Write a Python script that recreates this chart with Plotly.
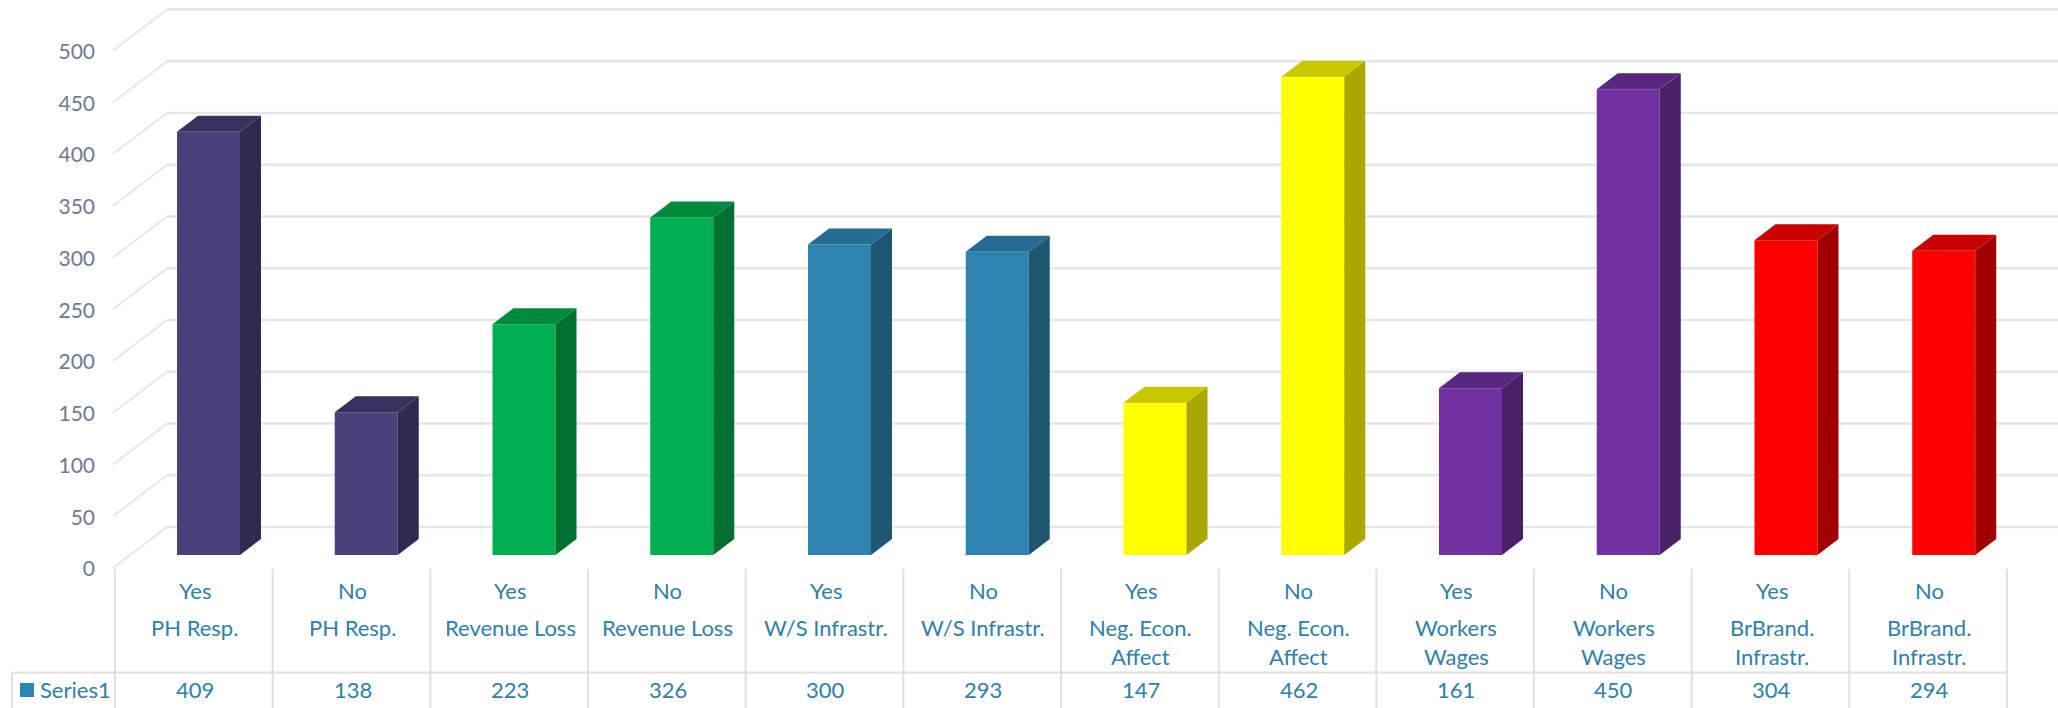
import plotly.graph_objects as go

# ---- data ----
categories_top = ["Yes", "No"] * 6
categories_mid = ["PH Resp.", "PH Resp.", "Revenue Loss", "Revenue Loss", "W/S Infrastr.", "W/S Infrastr.",
                  "Neg. Econ.", "Neg. Econ.", "Workers", "Workers", "BrBrand.", "BrBrand."]
categories_low = ["", "", "", "", "", "", "Affect", "Affect", "Wages", "Wages", "Infrastr.", "Infrastr."]
values = [409, 138, 223, 326, 300, 293, 147, 462, 161, 450, 304, 294]
y_ticks = [0, 50, 100, 150, 200, 250, 300, 350, 400, 450, 500]
series_name = "Series1"

# ---- style ----
front = ["#47427A", "#47427A", "#00B050", "#00B050", "#2E84B0", "#2E84B0",
         "#FFFF00", "#FFFF00", "#7030A0", "#7030A0", "#FF0000", "#FF0000"]
side = ["#2D2B50", "#2D2B50", "#007030", "#007030", "#1E5674", "#1E5674",
        "#A8A800", "#A8A800", "#4A2068", "#4A2068", "#A00000", "#A00000"]
top = ["#35325C", "#35325C", "#008A3C", "#008A3C", "#256C92", "#256C92",
       "#C8C800", "#C8C800", "#582880", "#582880", "#C80000", "#C80000"]
GRID = "#E4E5EA"
WALL = "#E6E6E8"
TABLE = "#DFE0E6"
TEXT = "#2F80A8"
AXIS_TEXT = "#6F7990"
FONT = "Lato"

W, H = 2058, 708
STEP = 157.75          # pixels per category
K = 1.035              # pixels per value unit
X0, Y0 = 208.5, 555.0  # pixel of category 0 / value 0
BAR_W = 63 / STEP
DX, DY = 21 / STEP, 16 / K

xr = [-X0 / STEP, (W - X0) / STEP]
yr = [(Y0 - H) / K, Y0 / K]
yr2 = [(569 - H) / K, 569 / K]


def px_x(p):
    return (p - X0) / STEP


def paper_y(p):
    return 1 - p / H


idx = list(range(len(values)))
fig = go.Figure()
fig.add_trace(go.Bar(x=idx, y=values, width=BAR_W, name=series_name,
                     marker=dict(color=front, line=dict(width=0)), hoverinfo="y"))
for i, v in zip(idx, values):
    r = i + BAR_W / 2
    l = i - BAR_W / 2
    fig.add_trace(go.Scatter(x=[r, r + DX, r + DX, r, r], y=[0, DY, v + DY, v, 0],
                             mode="lines", fill="toself", fillcolor=side[i],
                             line=dict(width=0, color=side[i]), hoverinfo="skip"))
    fig.add_trace(go.Scatter(x=[l, l + DX, r + DX, r, l], y=[v, v + DY, v + DY, v, v],
                             mode="lines", fill="toself", fillcolor=top[i],
                             line=dict(width=0, color=top[i]), hoverinfo="skip"))
# carrier for the value-axis labels, which sit on the front edge of the floor
fig.add_trace(go.Scatter(x=[0] * len(y_ticks), y=y_ticks, yaxis="y2", mode="markers",
                         marker=dict(opacity=0), hoverinfo="skip"))

shapes = []
front_off = (Y0 - 568) / K
back_off = (Y0 - 527) / K
for t in y_ticks:
    shapes.append(dict(type="line", xref="x", yref="y", layer="below",
                       x0=px_x(113), y0=t + front_off, x1=px_x(167), y1=t + back_off,
                       line=dict(color=WALL, width=2)))
    shapes.append(dict(type="line", xref="x", yref="y", layer="below",
                       x0=px_x(167), y0=t + back_off, x1=xr[1], y1=t + back_off,
                       line=dict(color=GRID, width=2.5)))

TABLE_L, TABLE_STEP = 115.0, 157.67
for i in range(len(values) + 1):
    xp = TABLE_L + TABLE_STEP * i
    shapes.append(dict(type="line", xref="paper", yref="paper", layer="below",
                       x0=xp / W, x1=xp / W, y0=paper_y(569), y1=0,
                       line=dict(color=TABLE, width=2)))
shapes.append(dict(type="line", xref="paper", yref="paper", layer="below",
                   x0=12 / W, x1=(TABLE_L + TABLE_STEP * len(values)) / W,
                   y0=paper_y(672.5), y1=paper_y(672.5), line=dict(color=TABLE, width=2)))
shapes.append(dict(type="line", xref="paper", yref="paper", layer="below",
                   x0=12 / W, x1=12 / W, y0=paper_y(672.5), y1=0,
                   line=dict(color=TABLE, width=2)))
shapes.append(dict(type="rect", xref="paper", yref="paper",
                   x0=20 / W, x1=34 / W, y0=paper_y(697), y1=paper_y(683),
                   fillcolor="#2E84B0", line=dict(width=0)))

annotations = []


def label(xp, yp, text, anchor="center"):
    annotations.append(dict(x=xp / W, y=paper_y(yp), xref="paper", yref="paper", text=text,
                            showarrow=False, xanchor=anchor, yanchor="middle",
                            font=dict(family=FONT, size=22, color=TEXT)))


for i in idx:
    c = TABLE_L + TABLE_STEP * (i + 0.5) + 1
    label(c, 590.5, categories_top[i])
    label(c, 627.5, categories_mid[i])
    if categories_low[i]:
        label(c, 656.5, categories_low[i])
    label(c, 689.5, str(values[i]))
label(38, 689.5, series_name, "left")

fig.update_layout(
    width=None, height=None,
    autosize=True,
    margin=dict(l=0, r=0, t=0, b=0, pad=0),
    paper_bgcolor="white", plot_bgcolor="rgba(0,0,0,0)",
    showlegend=False,
    xaxis=dict(range=xr, domain=[0, 1], visible=False, fixedrange=True),
    yaxis=dict(range=yr, domain=[0, 1], visible=False, fixedrange=True),
    yaxis2=dict(range=yr2, domain=[0, 1], overlaying="y", anchor="free", side="left",
                position=95 / W, tickmode="array", tickvals=y_ticks,
                ticktext=[str(t) for t in y_ticks], showgrid=False, zeroline=False,
                showline=False, ticks="", fixedrange=True,
                tickfont=dict(family=FONT, size=21, color=AXIS_TEXT)),
    shapes=shapes, annotations=annotations,
)
fig.write_html("out.html", config={"displayModeBar": False}, default_width="100%", default_height="100vh",
               include_plotlyjs=True)
html = open("out.html", encoding="utf-8").read()
html = html.replace("<head>", "<head><style>html,body{margin:0;padding:0;height:100%;overflow:hidden}</style>", 1)
open("out.html", "w", encoding="utf-8").write(html)
